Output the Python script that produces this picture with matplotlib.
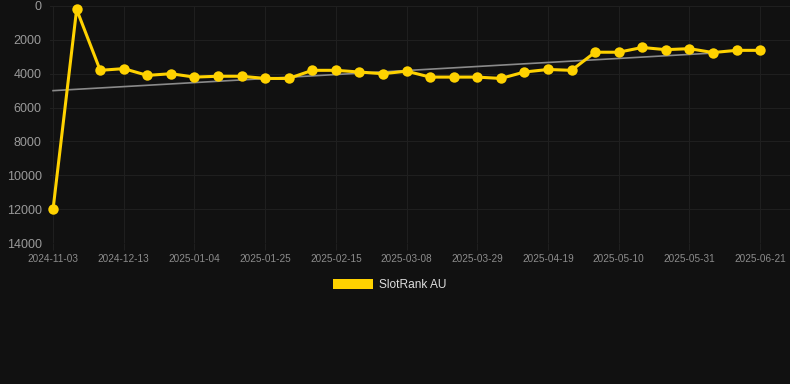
import matplotlib
matplotlib.use("Agg")
import matplotlib.pyplot as plt
from matplotlib.patches import Patch
import numpy as np

# weekly SlotRank AU values (lower rank number = better, axis is reversed)
rank_values = [12000, 200, 3800, 3700, 4100, 4000, 4200, 4150, 4150, 4280,
               4280, 3800, 3800, 3900, 4000, 3850, 4200, 4200, 4200, 4280,
               3900, 3750, 3800, 2730, 2730, 2450, 2580, 2520, 2750, 2620,
               2620]
# every third point carries a date label
tick_labels = ["2024-11-03", "2024-12-13", "2025-01-04", "2025-01-25",
               "2025-02-15", "2025-03-08", "2025-03-29", "2025-04-19",
               "2025-05-10", "2025-05-31", "2025-06-21"]
# grey trend line, start and end
trend_values = [5000, 2780]
trend_span = [0, 28]
series_name = "SlotRank AU"

bg = "#111111"
gold = "#FFD200"

fig = plt.figure(figsize=(7.9, 3.84), dpi=100, facecolor=bg)
ax = fig.add_axes([50 / 790, 1 - 243 / 384, 740 / 790, 237 / 384])
ax.set_facecolor(bg)

x = np.arange(len(rank_values))
ax.plot(trend_span, trend_values, color="#8a8a8a", lw=1.2, zorder=2)
ax.plot(x, rank_values, color=gold, lw=2.2, marker="o", markersize=7.5,
        markeredgewidth=0, zorder=3, clip_on=False)

ax.set_ylim(14000, 0)
ax.set_yticks(range(0, 14001, 2000))
ax.set_xlim(-0.13, 31.27)
ax.set_xticks(x[::3])
ax.set_xticklabels(tick_labels)

for side in ax.spines.values():
    side.set_visible(False)
ax.grid(True, color="#1f1f1f", lw=0.8)
ax.tick_params(axis="y", length=0, pad=6, labelsize=9, labelcolor="#9a9a9a")
ax.tick_params(axis="x", length=5, width=0.8, color="#1f1f1f", pad=3,
               labelsize=7.2, labelcolor="#8c8c8c")
for lbl in ax.get_xticklabels() + ax.get_yticklabels():
    lbl.set_fontfamily("Liberation Sans")

handle = Patch(facecolor=gold, edgecolor="none", label=series_name)
leg = fig.legend(handles=[handle], loc="center",
                 bbox_to_anchor=(389.5 / 790, 1 - 285 / 384), frameon=False,
                 handlelength=3.4, handleheight=1.0, handletextpad=0.5,
                 prop={"family": "Liberation Sans", "size": 8.6})
for t in leg.get_texts():
    t.set_color("#dddddd")

fig.savefig("out.png", dpi=100, facecolor=bg)
